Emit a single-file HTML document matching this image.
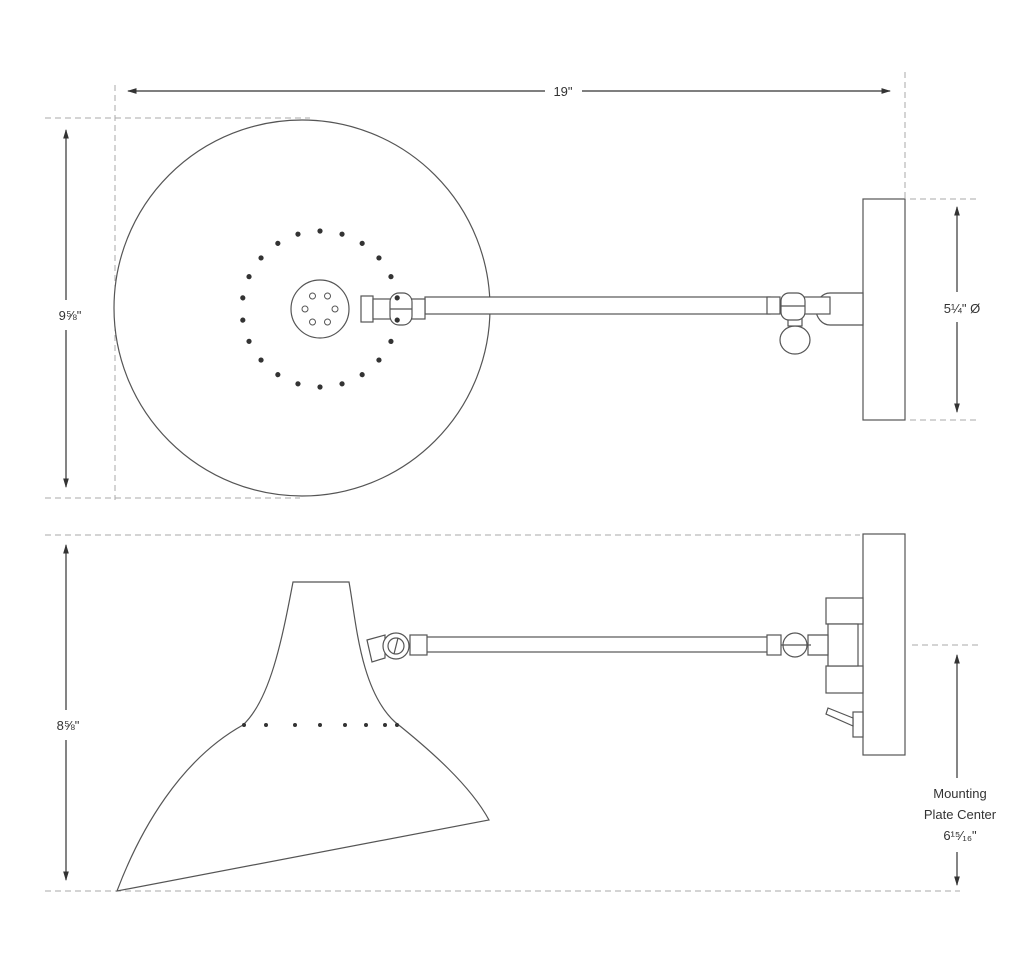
<!DOCTYPE html>
<html><head><meta charset="utf-8"><style>
html,body{margin:0;padding:0;background:#fff;}
svg{display:block;}
text{font-family:"Liberation Sans",sans-serif;fill:#333;font-size:13px;}
</style></head><body>
<svg width="1024" height="963" viewBox="0 0 1024 963" xmlns="http://www.w3.org/2000/svg">
<defs>
<marker id="ah" viewBox="0 0 10 10" refX="9" refY="5" markerWidth="8" markerHeight="8" orient="auto-start-reverse"><path d="M0,2 L10,5 L0,8 Z" fill="#333"/></marker>
</defs>
<g stroke="#aaa" stroke-width="1" stroke-dasharray="6,4" fill="none">
<line x1="115" y1="85" x2="115" y2="500"/>
<line x1="905" y1="72" x2="905" y2="198"/>
<line x1="45" y1="118" x2="310" y2="118"/>
<line x1="45" y1="498" x2="300" y2="498"/>
<line x1="910" y1="199" x2="980" y2="199"/>
<line x1="910" y1="420" x2="980" y2="420"/>
<line x1="45" y1="535" x2="860" y2="535"/>
<line x1="45" y1="891" x2="960" y2="891"/>
<line x1="912" y1="645" x2="980" y2="645"/>
</g>
<g stroke="#333" stroke-width="1.2" fill="none">
<line x1="128" y1="91" x2="545" y2="91" marker-start="url(#ah)"/>
<line x1="582" y1="91" x2="890" y2="91" marker-end="url(#ah)"/>
<line x1="66" y1="130" x2="66" y2="300" marker-start="url(#ah)"/>
<line x1="66" y1="330" x2="66" y2="487" marker-end="url(#ah)"/>
<line x1="957" y1="207" x2="957" y2="292" marker-start="url(#ah)"/>
<line x1="957" y1="322" x2="957" y2="412" marker-end="url(#ah)"/>
<line x1="66" y1="545" x2="66" y2="710" marker-start="url(#ah)"/>
<line x1="66" y1="740" x2="66" y2="880" marker-end="url(#ah)"/>
<line x1="957" y1="655" x2="957" y2="778" marker-start="url(#ah)"/>
<line x1="957" y1="852" x2="957" y2="885" marker-end="url(#ah)"/>
</g>
<text x="563" y="96" text-anchor="middle">19"</text>
<text x="70" y="320" text-anchor="middle">9⅝"</text>
<text x="962" y="313" text-anchor="middle">5¼" Ø</text>
<text x="68" y="730" text-anchor="middle">8⅝"</text>
<text x="960" y="798" text-anchor="middle">Mounting</text>
<text x="960" y="819" text-anchor="middle">Plate Center</text>
<text x="960" y="840" text-anchor="middle">6¹⁵⁄₁₆"</text>

<g stroke="#555" stroke-width="1.2" fill="#fff">
<!-- top view -->
<circle cx="302" cy="308" r="188"/>
<circle cx="320" cy="309" r="29"/>
<rect x="863" y="199" width="42" height="221"/>
<rect x="425" y="297" width="345" height="17"/>
<path d="M830,293 L863,293 L863,325 L830,325 A14,16 0 0 1 830,293 Z"/>
<rect x="800" y="297" width="30" height="17"/>
<rect x="767" y="297" width="13" height="17"/>
<ellipse cx="795" cy="340" rx="15" ry="14"/>
<rect x="788" y="318" width="14" height="8"/>
<rect x="781" y="293" width="24" height="27" rx="8"/>
<line x1="781" y1="306" x2="805" y2="306"/>
<rect x="361" y="296" width="12" height="26"/>
<rect x="373" y="299" width="20" height="20"/>
<rect x="409" y="299" width="16" height="20"/>
<rect x="390" y="293" width="22" height="32" rx="9"/>
<line x1="390" y1="309" x2="412" y2="309"/>
<!-- side view -->
<rect x="863" y="534" width="42" height="221"/>
<path d="M293,582 L349,582 C356,620 360,690 395,722 C430,750 470,785 489,820 L117,891 C140,830 180,760 243,725 C270,700 282,640 293,582 Z"/>
<rect x="826" y="598" width="37" height="26"/>
<rect x="826" y="666" width="37" height="27"/>
<rect x="828" y="624" width="30" height="42"/>
<rect x="425" y="637" width="345" height="15"/>
<path d="M808,635 L828,635 L828,655 L808,655 Z"/>
<rect x="767" y="635" width="14" height="20"/>
<circle cx="795" cy="645" r="12"/>
<line x1="781" y1="645" x2="811" y2="645"/>
<path d="M367,640 L385,635 L385,658 L372,662 Z"/>
<rect x="410" y="635" width="17" height="20"/>
<circle cx="396" cy="646" r="13"/>
<circle cx="396" cy="646" r="8"/>
<line x1="398" y1="638" x2="394" y2="654"/>
<rect x="853" y="712" width="10" height="25"/>
<path d="M853,718 L828,708 L826,714 L853,726 Z"/>
</g>
<g fill="#333">
<g id="ring">
<circle cx="398" cy="309" r="2.6" transform="rotate(8.18 320 309)"/>
<circle cx="398" cy="309" r="2.6" transform="rotate(24.55 320 309)"/>
<circle cx="398" cy="309" r="2.6" transform="rotate(40.9 320 309)"/>
<circle cx="398" cy="309" r="2.6" transform="rotate(57.3 320 309)"/>
<circle cx="398" cy="309" r="2.6" transform="rotate(73.6 320 309)"/>
<circle cx="398" cy="309" r="2.6" transform="rotate(90 320 309)"/>
<circle cx="398" cy="309" r="2.6" transform="rotate(106.4 320 309)"/>
<circle cx="398" cy="309" r="2.6" transform="rotate(122.7 320 309)"/>
<circle cx="398" cy="309" r="2.6" transform="rotate(139.1 320 309)"/>
<circle cx="398" cy="309" r="2.6" transform="rotate(155.5 320 309)"/>
<circle cx="398" cy="309" r="2.6" transform="rotate(171.8 320 309)"/>
<circle cx="398" cy="309" r="2.6" transform="rotate(188.2 320 309)"/>
<circle cx="398" cy="309" r="2.6" transform="rotate(204.5 320 309)"/>
<circle cx="398" cy="309" r="2.6" transform="rotate(220.9 320 309)"/>
<circle cx="398" cy="309" r="2.6" transform="rotate(237.3 320 309)"/>
<circle cx="398" cy="309" r="2.6" transform="rotate(253.6 320 309)"/>
<circle cx="398" cy="309" r="2.6" transform="rotate(270 320 309)"/>
<circle cx="398" cy="309" r="2.6" transform="rotate(286.4 320 309)"/>
<circle cx="398" cy="309" r="2.6" transform="rotate(302.7 320 309)"/>
<circle cx="398" cy="309" r="2.6" transform="rotate(319.1 320 309)"/>
<circle cx="398" cy="309" r="2.6" transform="rotate(335.5 320 309)"/>
<circle cx="398" cy="309" r="2.6" transform="rotate(351.8 320 309)"/>
</g>
<circle cx="244" cy="725" r="2"/><circle cx="266" cy="725" r="2"/><circle cx="295" cy="725" r="2"/>
<circle cx="320" cy="725" r="2"/><circle cx="345" cy="725" r="2"/><circle cx="366" cy="725" r="2"/>
<circle cx="385" cy="725" r="2"/><circle cx="397" cy="725" r="2"/>
</g>
<g fill="none" stroke="#555" stroke-width="1">
<circle cx="335" cy="309" r="3" transform="rotate(0 320 309)"/>
<circle cx="335" cy="309" r="3" transform="rotate(60 320 309)"/>
<circle cx="335" cy="309" r="3" transform="rotate(120 320 309)"/>
<circle cx="335" cy="309" r="3" transform="rotate(180 320 309)"/>
<circle cx="335" cy="309" r="3" transform="rotate(240 320 309)"/>
<circle cx="335" cy="309" r="3" transform="rotate(300 320 309)"/>
</g>
</svg>
</body></html>
